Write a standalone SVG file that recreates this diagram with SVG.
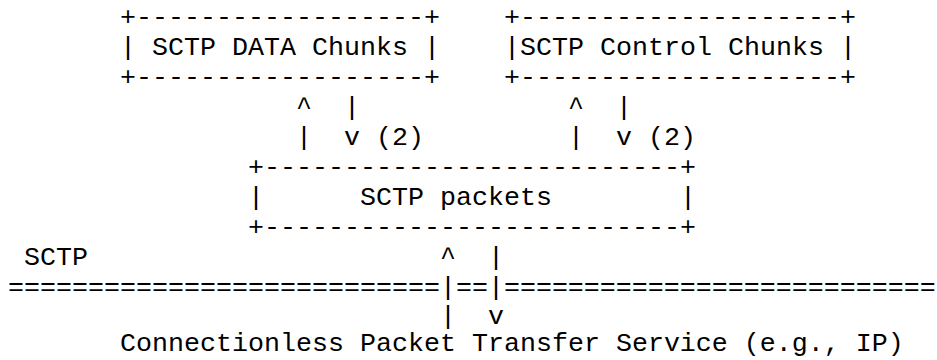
<svg xmlns="http://www.w3.org/2000/svg" width="937" height="360" viewBox="0 0 937 360" xml:space="preserve">
<style>
text { font-family: "Liberation Mono", "Courier New", monospace; font-size: 26.67px; fill: #000; white-space: pre; }
</style>
<rect width="937" height="360" fill="#fff"/>
<g id="data-chunks">
<text x="120" y="24.5">+------------------+</text>
<text x="120" y="54.5">| SCTP DATA Chunks |</text>
<text x="120" y="84.5">+------------------+</text>
</g>
<g id="control-chunks">
<text x="504" y="24.5">+--------------------+</text>
<text x="504" y="54.5">|SCTP Control Chunks |</text>
<text x="504" y="84.5">+--------------------+</text>
</g>
<g id="sctp-packets">
<text x="248" y="174.5">+--------------------------+</text>
<text x="248" y="204.5">|      SCTP packets        |</text>
<text x="248" y="234.5">+--------------------------+</text>
</g>
<g id="sctp-boundary">
<text x="24" y="264.5">SCTP</text>
<text x="8" y="294.5">===========================|==|===========================</text>
</g>
<g id="ip-service">
<text x="120" y="351">Connectionless Packet Transfer Service (e.g., IP)</text>
</g>
<g id="connectors">
<text x="296" y="114.5">^  |</text>
<text x="296" y="144.5">|  v (2)</text>
<text x="568" y="114.5">^  |</text>
<text x="568" y="144.5">|  v (2)</text>
<text x="440" y="264.5">^  |</text>
<text x="440" y="323.5">|  v</text>
</g>
</svg>
